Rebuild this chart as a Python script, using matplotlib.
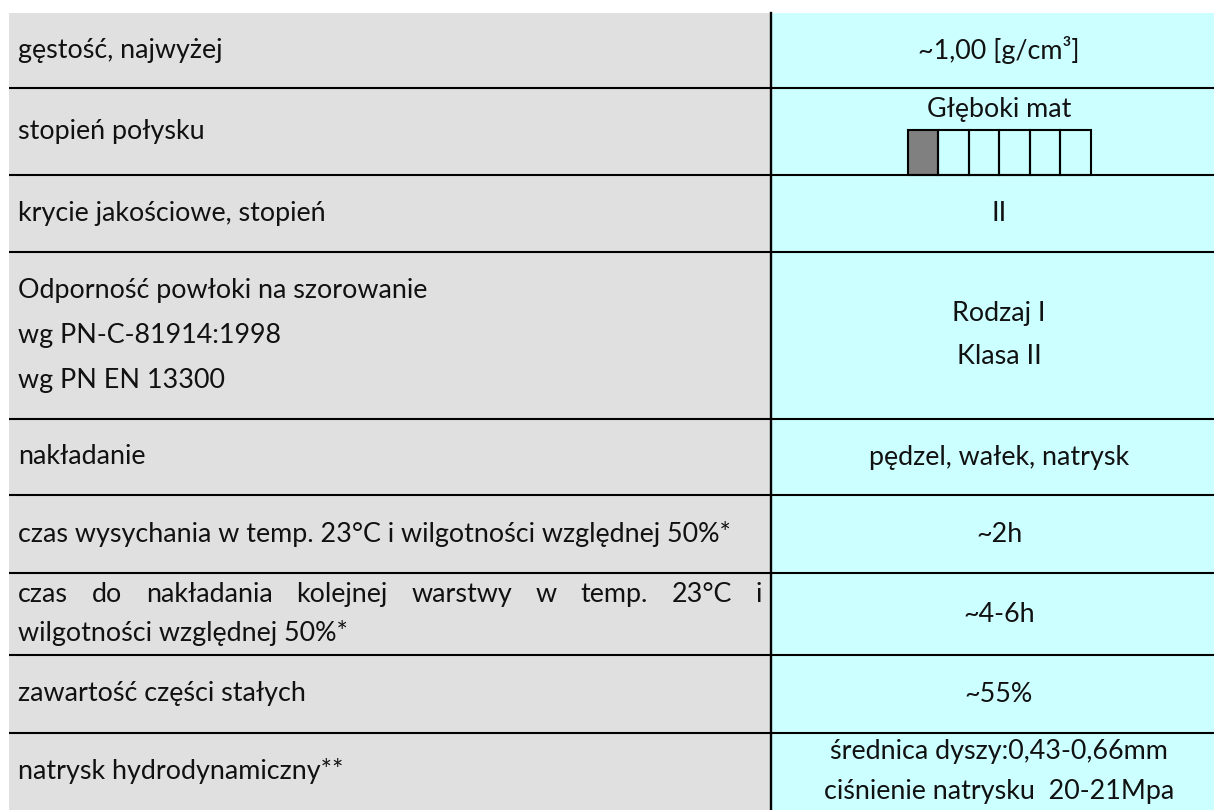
import matplotlib
matplotlib.use('Agg')
from matplotlib import pyplot as plt
from matplotlib.patches import Rectangle

plt.rcParams['font.family'] = ['Lato', 'DejaVu Sans']

# table content
properties = [
    ['gęstość, najwyżej'],
    ['stopień połysku'],
    ['krycie jakościowe, stopień'],
    ['Odporność powłoki na szorowanie', 'wg PN-C-81914:1998', 'wg PN EN 13300'],
    ['nakładanie'],
    ['czas wysychania w temp. 23°C i wilgotności względnej 50%*'],
    ['czas do nakładania kolejnej warstwy w temp. 23°C i', 'wilgotności względnej 50%*'],
    ['zawartość części stałych'],
    ['natrysk hydrodynamiczny**'],
]
values = [
    ['~1,00 [g/cm³]'],
    ['Głęboki mat'],
    ['II'],
    ['Rodzaj I', 'Klasa II'],
    ['pędzel, wałek, natrysk'],
    ['~2h'],
    ['~4-6h'],
    ['~55%'],
    ['średnica dyszy:0,43-0,66mm', 'ciśnienie natrysku  20-21Mpa'],
]
justified_rows = [6]
gloss_boxes = 6
gloss_filled = 1

# layout (pixels)
W, H = 1214, 810
row_edges = [13, 88, 175, 252, 419, 495, 573, 655, 733, 810]
x_left, x_mid, x_right = 9, 771, 1240
x_center = 999
fs = 19.4
text_color = '#111111'

fig = plt.figure(figsize=(W / 100, H / 100), dpi=100)
ax = fig.add_axes([0, 0, 1, 1])
ax.set_xlim(0, W)
ax.set_ylim(H, 0)
ax.axis('off')

ax.add_patch(Rectangle((x_left, row_edges[0]), x_mid - x_left, row_edges[-1] - row_edges[0],
                       facecolor='#e0e0e0', edgecolor='none'))
ax.add_patch(Rectangle((x_mid, row_edges[0]), x_right - x_mid, row_edges[-1] - row_edges[0],
                       facecolor='#ccffff', edgecolor='none'))

for y in row_edges[1:-1]:
    ax.plot([x_left, x_right], [y, y], color='black', lw=1.5, solid_capstyle='butt')
ax.plot([x_mid, x_mid], [row_edges[0], row_edges[-1] + 5], color='black', lw=1.7)

fig.canvas.draw()
renderer = fig.canvas.get_renderer()
inv = ax.transData.inverted()


def width_of(t):
    bb = t.get_window_extent(renderer)
    (x0, _), (x1, _) = inv.transform([(bb.x0, bb.y0), (bb.x1, bb.y1)])
    return x1 - x0


for i, (left, right) in enumerate(zip(properties, values)):
    top, bottom = row_edges[i], row_edges[i + 1]
    yc = (top + bottom) / 2
    n = len(left)
    lgap = 39 if i in justified_rows else 45
    for k, line in enumerate(left):
        y = yc + (k - (n - 1) / 2) * lgap
        if i in justified_rows and k < n - 1:
            # spread the words across the whole cell width
            words = line.split()
            texts = [ax.text(0, y, w, fontsize=fs, color=text_color, va='center', ha='left')
                     for w in words]
            widths = [width_of(t) for t in texts]
            avail = (x_mid - 9) - (x_left + 9)
            gap = (avail - sum(widths)) / (len(words) - 1)
            x = x_left + 9
            for t, w in zip(texts, widths):
                t.set_x(x)
                x += w + gap
        else:
            ax.text(x_left + 9, y, line, fontsize=fs, color=text_color, va='center', ha='left')

    if i == 1:
        ax.text(x_center, top + 22, right[0], fontsize=fs, color=text_color,
                va='center', ha='center')
        bw = 30.5
        bx = x_center - gloss_boxes * bw / 2
        for b in range(gloss_boxes):
            ax.add_patch(Rectangle((bx + b * bw, 130), bw, bottom - 130,
                                   facecolor='#808080' if b < gloss_filled else 'none',
                                   edgecolor='black', lw=1.5))
        continue
    m = len(right)
    rgap = 40 if i == 8 else 43
    for k, line in enumerate(right):
        y = yc + (k - (m - 1) / 2) * rgap
        ax.text(x_center, y, line, fontsize=fs, color=text_color, va='center', ha='center')

fig.savefig('out.png', dpi=100, facecolor='white')
